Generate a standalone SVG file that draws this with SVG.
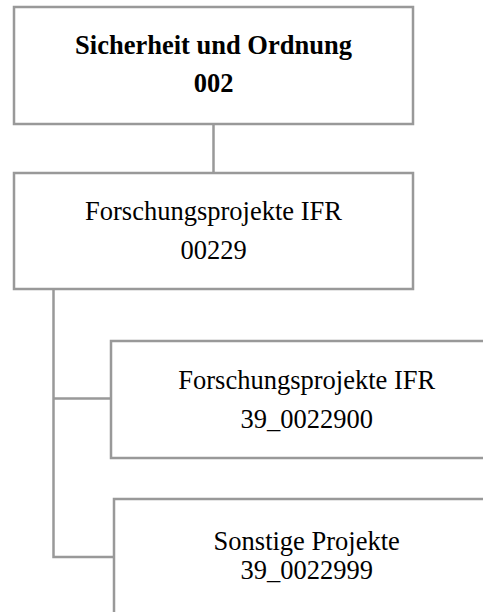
<svg xmlns="http://www.w3.org/2000/svg" width="483" height="612" viewBox="0 0 483 612">
<style>
.box{fill:#ffffff;stroke:#999999;stroke-width:2.5}
.conn{fill:none;stroke:#999999;stroke-width:2.5}
text{font-size:26.5px;fill:#000000;text-anchor:middle}
.b{font-weight:bold}
</style>
<rect width="483" height="612" fill="#ffffff"/>
<g id="connectors">
<path class="conn" d="M213.5,124 V173"/>
<path class="conn" d="M53.5,289 V557 H114"/>
<path class="conn" d="M53.5,398.5 H111"/>
</g>
<g id="node-002" font-family="'Liberation Serif', 'Times New Roman', Times, serif">
<rect class="box" x="14" y="7" width="399" height="117"/>
<text class="b" x="213.5" y="53.5">Sicherheit und Ordnung</text>
<text class="b" x="213.5" y="91.5">002</text>
</g>
<g id="node-00229" font-family="'Liberation Serif', 'Times New Roman', Times, serif">
<rect class="box" x="14" y="173" width="399" height="116"/>
<text x="213.5" y="219.5">Forschungsprojekte IFR</text>
<text x="213.5" y="258.5">00229</text>
</g>
<g id="node-39_0022900" font-family="'Liberation Serif', 'Times New Roman', Times, serif">
<rect class="box" x="111" y="341" width="400" height="117"/>
<text x="306.7" y="389">Forschungsprojekte IFR</text>
<text x="306.7" y="427.5">39_0022900</text>
</g>
<g id="node-39_0022999" font-family="'Liberation Serif', 'Times New Roman', Times, serif">
<rect class="box" x="114" y="499" width="400" height="150"/>
<text x="306.7" y="550">Sonstige Projekte</text>
<text x="306.7" y="578.5">39_0022999</text>
</g>
</svg>
